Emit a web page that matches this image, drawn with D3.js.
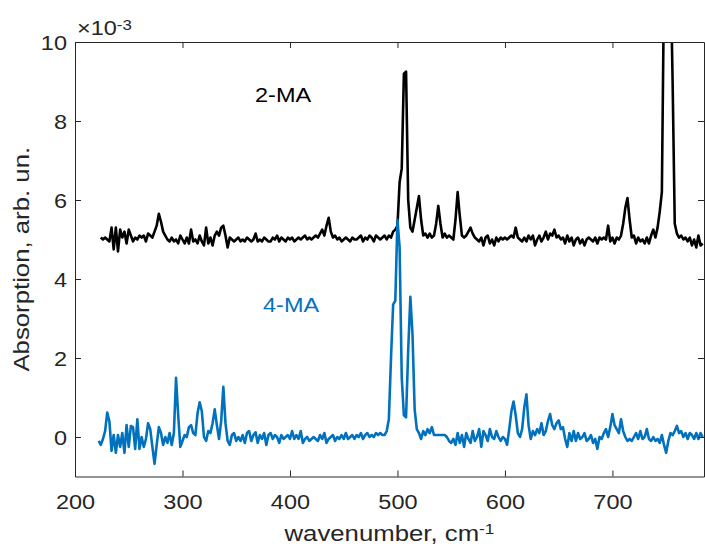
<!DOCTYPE html>
<html>
<head>
<meta charset="utf-8">
<script src="https://cdn.jsdelivr.net/npm/d3@7"></script>
<style>
  html, body { margin: 0; padding: 0; background: #fff; }
  svg { display: block; }
  text { font-family: "Liberation Sans", Arial, Helvetica, sans-serif; fill: #262626; }
</style>
</head>
<body>
<svg id="chart" width="705" height="554"></svg>
<script>
// Spectra sampled every 2 cm^-1 from 222 to 784 cm^-1 (absorption in units of 1e-3)
const wavenumberStart = 222;
const wavenumberStep = 2;

// 2-MA spectrum (first sample missing: this record begins at 224 cm^-1)
const ma2 = [
  null, 5.05, 5.00, 5.05, 5.00, 4.95, 5.30, 4.75, 5.30, 4.70,
  5.25, 5.05, 5.20, 4.90, 5.25, 5.10, 4.95, 5.05, 5.00, 5.10,
  5.05, 5.10, 4.95, 5.15, 5.10, 5.05, 5.20, 5.35, 5.65, 5.45,
  5.20, 5.10, 5.00, 4.95, 5.05, 4.95, 5.00, 4.90, 5.10, 5.00,
  4.90, 5.05, 4.90, 5.25, 4.95, 5.00, 4.90, 5.10, 4.95, 4.85,
  5.30, 4.90, 5.05, 4.85, 5.10, 5.20, 5.10, 5.30, 5.35, 5.10,
  4.80, 5.05, 5.00, 4.95, 5.00, 5.05, 4.95, 5.00, 4.95, 5.05,
  5.00, 4.95, 5.00, 5.15, 4.95, 5.00, 4.95, 5.05, 5.00, 4.95,
  4.95, 5.05, 5.00, 5.10, 4.95, 5.05, 5.00, 4.95, 5.05, 5.00,
  5.05, 4.95, 5.00, 5.05, 5.00, 5.05, 5.10, 5.00, 5.05, 5.00,
  5.05, 5.10, 5.05, 5.15, 5.25, 5.10, 5.35, 5.55, 5.20, 5.05,
  5.10, 5.00, 5.05, 4.95, 5.00, 5.05, 5.00, 4.95, 5.05, 5.00,
  5.00, 5.05, 5.10, 4.95, 5.05, 5.00, 5.10, 5.05, 4.95, 5.10,
  5.05, 5.00, 5.05, 5.10, 5.00, 5.10, 5.05, 5.20, 5.25, 5.35,
  6.45, 6.80, 9.20, 9.25, 6.00, 5.30, 5.20, 5.50, 5.80, 6.10,
  5.50, 5.10, 5.15, 5.05, 5.15, 5.05, 5.10, 5.40, 5.85, 5.40,
  5.05, 5.15, 5.05, 5.10, 5.05, 5.00, 5.50, 6.20, 5.60, 5.10,
  5.05, 5.10, 5.20, 5.30, 5.15, 5.05, 5.00, 4.95, 5.05, 4.85,
  5.05, 5.10, 4.90, 5.00, 4.85, 5.05, 4.95, 5.05, 5.00, 5.05,
  5.00, 5.05, 5.10, 5.05, 5.30, 5.05, 5.00, 4.95, 5.05, 4.95,
  5.10, 5.00, 5.10, 4.85, 5.00, 5.10, 4.95, 5.05, 5.20, 5.00,
  5.15, 5.10, 5.25, 5.05, 5.10, 5.00, 5.05, 4.90, 5.10, 4.95,
  5.05, 4.85, 5.00, 5.05, 4.90, 5.00, 4.85, 5.00, 5.05, 5.00,
  4.95, 5.05, 4.90, 5.05, 5.00, 5.05, 5.00, 5.35, 4.95, 5.05,
  4.90, 5.05, 5.00, 5.10, 5.40, 5.80, 6.05, 5.50, 5.05, 5.10,
  4.90, 5.05, 4.95, 5.00, 4.90, 5.05, 4.90, 5.10, 5.25, 5.05,
  5.30, 5.70, 6.20, 11.50, 13.00, 13.00, 12.00, 9.00, 5.40, 5.15,
  5.05, 5.10, 5.00, 5.05, 4.95, 5.05, 4.85, 5.00, 4.80, 5.10,
  4.85, 4.90
];

// 4-MA spectrum
const ma4 = [
  -0.10, -0.20, -0.05, 0.15, 0.62, 0.40, -0.35, 0.05, -0.40, 0.05,
  -0.25, 0.10, -0.40, 0.30, -0.25, 0.28, 0.25, -0.30, 0.45, -0.30,
  0.00, -0.25, -0.05, 0.35, 0.20, -0.25, -0.68, -0.20, 0.25, 0.10,
  -0.20, 0.00, -0.15, 0.10, -0.20, 0.10, 1.50, 0.55, -0.25, -0.10,
  0.05, 0.00, 0.25, 0.30, 0.10, 0.05, 0.60, 0.88, 0.65, 0.00,
  -0.10, 0.15, 0.10, 0.35, 0.70, 0.30, -0.05, 0.40, 1.27, 0.35,
  -0.10, -0.20, 0.05, 0.10, -0.10, 0.00, -0.10, 0.05, -0.15, 0.10,
  0.15, -0.10, 0.05, 0.12, -0.15, 0.05, -0.05, 0.10, -0.20, 0.05,
  0.10, -0.05, 0.05, 0.00, -0.15, 0.05, -0.05, 0.00, 0.05, -0.05,
  0.15, -0.05, 0.05, -0.05, 0.15, -0.15, -0.05, 0.00, -0.10, -0.05,
  0.00, -0.05, -0.10, 0.05, -0.05, 0.10, -0.15, -0.05, 0.00, 0.05,
  -0.10, 0.00, -0.05, 0.05, -0.05, 0.10, -0.05, 0.00, 0.05, -0.05,
  0.05, 0.00, 0.10, -0.05, 0.05, 0.10, 0.00, 0.05, 0.00, 0.10,
  0.05, 0.10, 0.05, 0.05, 0.15, 0.45, 2.00, 3.35, 3.45, 5.50,
  4.80, 1.50, 0.55, 0.50, 2.20, 3.55, 2.60, 0.70, 0.20, 0.10,
  -0.05, 0.15, 0.05, 0.20, 0.10, 0.25, 0.05, 0.05, 0.05, 0.05,
  0.05, 0.05, 0.00, -0.10, -0.15, -0.05, -0.20, 0.10, -0.15, 0.05,
  -0.25, 0.10, -0.05, -0.15, 0.15, -0.10, 0.00, 0.20, -0.25, 0.15,
  0.05, -0.10, 0.20, 0.00, -0.05, 0.15, 0.00, -0.10, 0.00, -0.05,
  -0.20, 0.20, 0.65, 0.90, 0.55, 0.10, 0.00, 0.20, 0.75, 1.08,
  0.30, -0.05, 0.15, 0.05, 0.20, 0.10, 0.35, 0.05, 0.15, 0.40,
  0.58, 0.30, 0.20, 0.35, 0.42, 0.20, 0.25, -0.05, -0.25, 0.10,
  -0.10, 0.15, -0.10, 0.10, -0.05, 0.00, 0.10, -0.10, -0.05, 0.05,
  -0.15, -0.05, -0.30, 0.00, -0.05, 0.10, 0.20, 0.00, 0.25, 0.58,
  0.30, 0.20, 0.10, 0.45, 0.15, 0.00, -0.10, -0.05, -0.10, 0.00,
  0.10, -0.05, 0.15, -0.05, 0.00, 0.20, -0.05, -0.10, 0.00, -0.10,
  -0.05, -0.15, 0.05, -0.20, -0.40, -0.10, 0.10, 0.05, 0.15, 0.28,
  0.10, 0.15, 0.00, 0.10, -0.05, 0.10, 0.05, -0.05, 0.10, -0.05,
  0.10, 0.00
];

const xTicks = [200, 300, 400, 500, 600, 700];
const yTicks = [0, 2, 4, 6, 8, 10];
const xDomain = [200, 785.2];
const yDomain = [-1, 10];

const seriesLabels = ["2-MA", "4-MA"];
const seriesColors = ["#000000", "#0072BD"];

// ---- layout ----
const svg = d3.select("#chart");
const margin = { left: 75, right: 1, top: 42, bottom: 77.5 };
const W = 705, H = 554;
const x = d3.scaleLinear().domain(xDomain).range([margin.left, W - margin.right]);
const y = d3.scaleLinear().domain(yDomain).range([H - margin.bottom, margin.top]);
const STRETCH = 1.12;
const axisColor = "#262626";

svg.append("defs").append("clipPath").attr("id", "plotClip")
  .append("rect")
  .attr("x", x.range()[0]).attr("y", y.range()[1])
  .attr("width", x.range()[1] - x.range()[0])
  .attr("height", y.range()[0] - y.range()[1]);

// ---- spectra ----
const toPoints = vals => vals.map((v, i) => ({ w: wavenumberStart + i * wavenumberStep, v }));
const line = d3.line()
  .defined(d => d.v !== null)
  .x(d => x(d.w))
  .y(d => y(d.v));

const plot = svg.append("g").attr("clip-path", "url(#plotClip)");
[ma2, ma4].forEach((vals, k) => {
  plot.append("path")
    .datum(toPoints(vals))
    .attr("d", line)
    .attr("fill", "none")
    .attr("stroke", seriesColors[k])
    .attr("stroke-width", 2.6)
    .attr("stroke-linejoin", "round");
});

// ---- axes (box with inward ticks) ----
function styleAxis(g) {
  g.select(".domain").attr("stroke", axisColor).attr("stroke-width", 1);
  g.selectAll(".tick line").attr("stroke", axisColor).attr("stroke-width", 1);
}

const gx = svg.append("g").attr("transform", `translate(0,${y.range()[0]})`)
  .call(d3.axisBottom(x).tickValues(xTicks).tickFormat(d3.format("d"))
    .tickSizeInner(-6).tickSizeOuter(0))
  .call(styleAxis);
gx.selectAll(".tick text")
  .attr("y", null).attr("dy", null)
  .attr("transform", `translate(0,32) scale(${STRETCH},1)`)
  .attr("font-size", 21).attr("fill", axisColor)
  .style("font-family", "'Liberation Sans', Arial, sans-serif");

const gy = svg.append("g").attr("transform", `translate(${x.range()[0]},0)`)
  .call(d3.axisLeft(y).tickValues(yTicks).tickFormat(d3.format("d"))
    .tickSizeInner(-6).tickSizeOuter(0))
  .call(styleAxis);
gy.selectAll(".tick text")
  .attr("x", null).attr("dy", "0.35em")
  .attr("transform", `translate(-8,0) scale(${STRETCH},1)`)
  .attr("font-size", 21).attr("fill", axisColor)
  .style("font-family", "'Liberation Sans', Arial, sans-serif");

svg.append("g").attr("transform", `translate(0,${y.range()[1]})`)
  .call(d3.axisTop(x).tickValues(xTicks).tickFormat("").tickSizeInner(-6).tickSizeOuter(0))
  .call(styleAxis);
svg.append("g").attr("transform", `translate(${x.range()[1]},0)`)
  .call(d3.axisRight(y).tickValues(yTicks).tickFormat("").tickSizeInner(-6).tickSizeOuter(0))
  .call(styleAxis);

// ---- text helper: horizontally widened glyphs ----
function label(px, py, size, anchor, rotate, color) {
  return svg.append("text")
    .attr("transform", `translate(${px},${py}) rotate(${rotate}) scale(${STRETCH},1)`)
    .attr("font-size", size)
    .attr("text-anchor", anchor)
    .style("fill", color || axisColor);
}

// exponent marker above the y axis
const expo = label(77, 35, 21, "start", 0);
expo.append("tspan").text("\u00D710");
expo.append("tspan").attr("font-size", 15).attr("dy", -5.5).text("-3");

// x axis title
const xt = label((x.range()[0] + x.range()[1]) / 2, 541, 23, "middle", 0);
xt.append("tspan").text("wavenumber, cm");
xt.append("tspan").attr("font-size", 15.5).attr("dy", -7).text("-1");

// y axis title
label(29, (y.range()[0] + y.range()[1]) / 2, 23, "middle", -90)
  .text("Absorption, arb. un.");

// series annotations
label(255, 102, 21, "start", 0, seriesColors[0]).text(seriesLabels[0]);
label(263, 311.5, 21, "start", 0, seriesColors[1]).text(seriesLabels[1]);
</script>
</body>
</html>
